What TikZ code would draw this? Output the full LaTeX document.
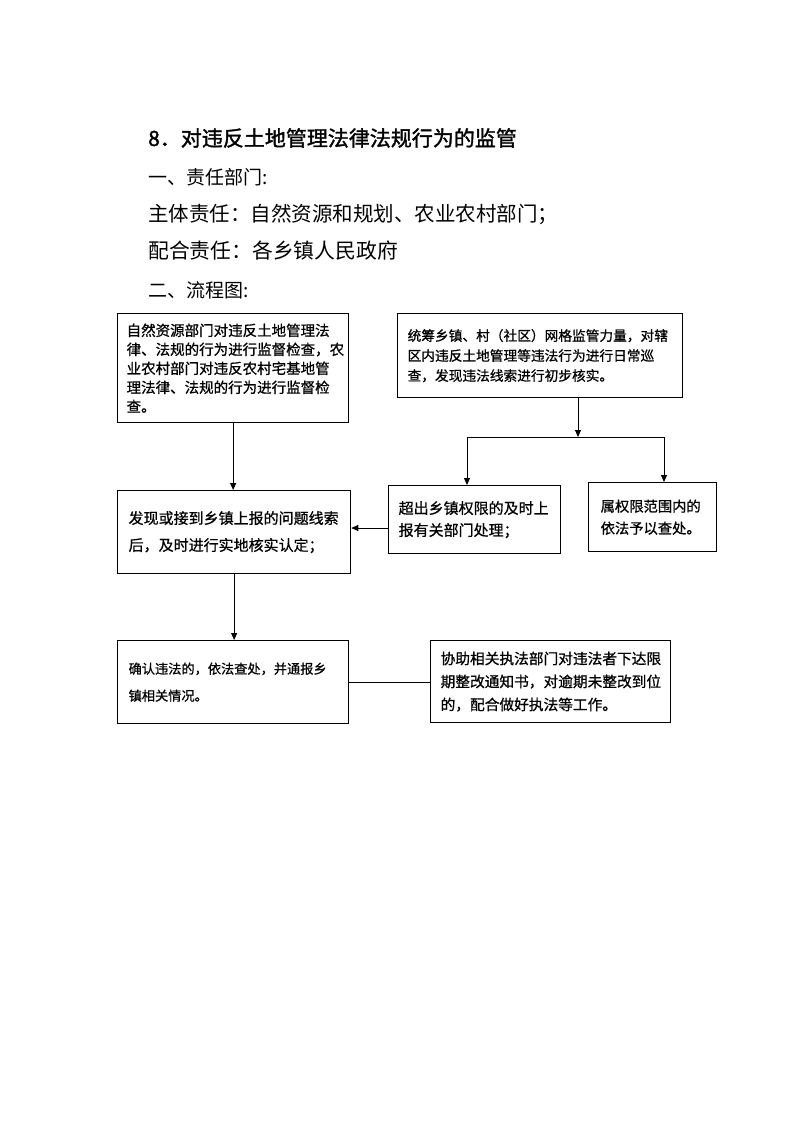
\documentclass[tikz,border=0pt]{standalone}
\usepackage{fontspec}
\setmainfont{Noto Sans CJK SC}
\newfontfamily\titlefont[FakeBold=1.6]{Noto Sans CJK SC}
\newfontfamily\boxfont[FakeBold=0.8]{Noto Sans CJK SC}
\usetikzlibrary{arrows.meta,positioning}

\tikzset{
  box/.style={draw,line width=1.3pt,anchor=north west,align=left,inner xsep=10pt,inner ysep=0pt},
  head/.style={anchor=west,inner sep=0pt,font=\fontsize{19}{22}\selectfont},
  link/.style={line width=0.9pt},
}

\begin{document}
\begin{tikzpicture}[x=1pt,y=-1pt,>={Triangle[length=7pt,width=6pt]}]
  \useasboundingbox (0,0) rectangle (793,1122);

  % headings
  \node[head,font=\titlefont\fontsize{21}{24}\selectfont] (title) at (148,138) {8．对违反土地管理法律法规行为的监管};
  \node[head] (duty) at (148,177) {一、责任部门:};
  \node[head,font=\fontsize{20.5}{22}\selectfont] (lead) at (148,214) {主体责任：自然资源和规划、农业农村部门；};
  \node[head,font=\fontsize{20.8}{22}\selectfont] (help) at (148,251) {配合责任：各乡镇人民政府};
  \node[head] (flow) at (148,290) {二、流程图:};

  % boxes
  \node[box,inner xsep=9pt,text width=213pt,minimum height=109pt,font=\boxfont\fontsize{14.5}{19}\selectfont] (A) at (117,313)
    {自然资源部门对违反土地管理法\\律、法规的行为进行监督检查，农\\业农村部门对违反农村宅基地管\\理法律、法规的行为进行监督检\\查。};
  \node[box,text width=265pt,minimum height=84pt,font=\boxfont\fontsize{13.7}{20}\selectfont] (B) at (397,313)
    {统筹乡镇、村（社区）网格监管力量，对辖\\区内违反土地管理等违法行为进行日常巡\\查，发现违法线索进行初步核实。};
  \node[box,text width=152pt,minimum height=68pt,font=\boxfont\fontsize{15}{22}\selectfont] (C) at (388,485)
    {超出乡镇权限的及时上\\报有关部门处理；};
  \node[box,inner xsep=12pt,text width=104pt,minimum height=69pt,font=\boxfont\fontsize{14.3}{22}\selectfont] (D) at (588,482)
    {属权限范围内的\\依法予以查处。};
  \node[box,inner xsep=11pt,text width=211pt,minimum height=83pt,font=\boxfont\fontsize{15}{27}\selectfont] (E) at (117,490)
    {发现或接到乡镇上报的问题线索\\后，及时进行实地核实认定；};
  \node[box,inner xsep=11pt,text width=209pt,minimum height=83pt,font=\boxfont\fontsize{13.2}{27}\selectfont] (F) at (117,640)
    {确认违法的，依法查处，并通报乡\\镇相关情况。};
  \node[box,text width=220pt,minimum height=82pt,font=\boxfont\fontsize{14.7}{23}\selectfont] (G) at (430,640)
    {协助相关执法部门对违法者下达限\\期整改通知书，对逾期未整改到位\\的，配合做好执法等工作。};

  % connectors
  \coordinate (split) at (578,437);
  \coordinate (brL) at (467,437);
  \coordinate (brR) at (664,437);
  \coordinate (ce) at (388,528);
  \draw[link,->] (B.south -| split) -- (split);
  \draw[link] (brL) -- (brR);
  \draw[link,->] (brL) -- (brL |- C.north);
  \draw[link,->] (brR) -- (brR |- D.north);
  \draw[link,->] (A.south) -- (A.south |- E.north);
  \draw[link,->] (C.west |- ce) -- (ce -| E.east);
  \draw[link,->] (E.south) -- (E.south |- F.north);
  \draw[link] (F.east) -- (F.east -| G.west);
\end{tikzpicture}
\end{document}
